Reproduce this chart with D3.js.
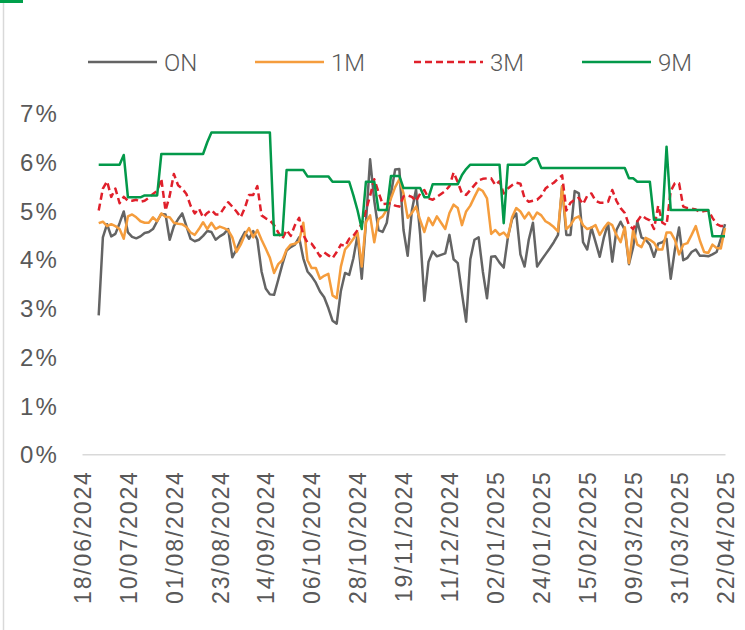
<!DOCTYPE html>
<html>
<head>
<meta charset="utf-8">
<script src="https://cdn.jsdelivr.net/npm/d3@7"></script>
<style>
  body { margin: 0; background: #fff; }
  svg { display: block; font-family: Roboto, "Noto Sans", sans-serif; }
</style>
</head>
<body>
<div id="chart"></div>
<script>
// series, one value every 2 days from 26/06/2024 to 22/04/2025 (in %)
const seriesNames = ["ON", "1M", "3M", "9M"];
const seriesColors = ["#646464", "#f59d3d", "#e0202b", "#03994a"];
const firstDate = "26/06/2024";
const stepDays = 2;

const tickLabels = ["18/06/2024", "10/07/2024", "01/08/2024", "23/08/2024", "14/09/2024",
    "06/10/2024", "28/10/2024", "19/11/2024", "11/12/2024", "02/01/2025",
    "24/01/2025", "15/02/2025", "09/03/2025", "31/03/2025", "22/04/2025"];
const yTicks = [0, 1, 2, 3, 4, 5, 6, 7];

const rateON = [
    2.85, 4.45, 4.72, 4.47, 4.52, 4.74, 4.98, 4.55, 4.46, 4.43,
    4.47, 4.54, 4.56, 4.62, 4.78, 4.93, 4.92, 4.40, 4.68, 4.82,
    4.94, 4.68, 4.42, 4.37, 4.40, 4.48, 4.58, 4.56, 4.40, 4.47,
    4.52, 4.62, 4.04, 4.20, 4.40, 4.56, 4.42, 4.58, 4.40, 3.75,
    3.40, 3.28, 3.27, 3.58, 3.90, 4.18, 4.25, 4.30, 4.45, 4.02,
    3.75, 3.65, 3.52, 3.34, 3.22, 3.00, 2.74, 2.68, 3.35, 3.72,
    3.68, 4.02, 4.50, 3.60, 4.75, 6.05, 5.20, 4.60, 4.56, 4.75,
    5.35, 5.84, 5.85, 4.60, 4.07, 5.00, 5.43, 4.50, 3.15, 3.95,
    4.16, 4.06, 4.09, 4.12, 4.50, 4.00, 3.92, 3.30, 2.72, 4.00,
    4.40, 4.45, 3.75, 3.20, 4.05, 4.06, 3.93, 3.83, 4.45, 4.82,
    4.94, 4.10, 3.85, 4.40, 4.75, 3.85, 3.98, 4.10, 4.22, 4.35,
    4.50, 5.50, 4.50, 4.50, 5.40, 5.35, 4.35, 4.20, 4.65, 4.35,
    4.05, 4.45, 4.74, 3.95, 4.60, 4.77, 4.60, 3.90, 4.25, 4.78,
    4.45, 4.40, 4.30, 4.05, 4.32, 4.35, 4.42, 3.60, 4.20, 4.65,
    3.98, 4.03, 4.15, 4.20, 4.07, 4.07, 4.06, 4.10, 4.15, 4.42,
    4.72
];

const rate1M = [
    4.74, 4.77, 4.68, 4.72, 4.68, 4.62, 4.42, 4.88, 4.92, 4.86,
    4.78, 4.75, 4.75, 4.86, 4.78, 4.94, 4.87, 4.86, 4.75, 4.73,
    4.72, 4.66, 4.55, 4.50, 4.62, 4.76, 4.62, 4.75, 4.62, 4.67,
    4.64, 4.60, 4.45, 4.15, 4.30, 4.50, 4.64, 4.45, 4.60, 4.40,
    4.22, 4.03, 3.72, 3.90, 3.98, 4.20, 4.30, 4.32, 4.37, 4.75,
    3.98, 3.82, 3.82, 3.60, 3.66, 3.70, 3.26, 3.20, 3.85, 4.20,
    4.30, 4.42, 4.55, 3.85, 4.76, 4.90, 4.35, 4.82, 4.88, 5.02,
    5.25, 5.48, 5.64, 5.35, 4.85, 4.95, 5.08, 4.80, 4.56, 4.85,
    4.70, 4.88, 4.75, 4.62, 4.95, 5.12, 5.05, 4.70, 4.98, 5.10,
    5.28, 5.45, 5.40, 5.25, 4.52, 4.60, 4.50, 4.55, 4.45, 4.86,
    5.05, 4.98, 4.84, 4.96, 4.82, 4.96, 4.90, 4.78, 4.73, 4.66,
    4.57, 5.50, 4.62, 4.70, 4.84, 4.88, 4.70, 4.62, 4.65, 4.70,
    4.50, 4.64, 4.75, 4.70, 4.50, 4.35, 4.66, 3.92, 4.60, 4.30,
    4.25, 4.44, 4.40, 4.34, 4.20, 4.20, 4.55, 4.55, 4.40, 4.10,
    4.30, 4.33, 4.50, 4.68, 4.38, 4.15, 4.13, 4.30, 4.23, 4.22,
    4.64
];

const rate3M = [
    5.00, 5.45, 5.60, 5.28, 5.45, 5.15, 5.28, 5.20, 5.20, 5.22,
    5.18, 5.20, 5.26, 5.34, 5.40, 5.65, 5.00, 5.30, 5.75, 5.52,
    5.45, 5.34, 5.10, 4.94, 5.04, 4.86, 4.95, 5.01, 4.92, 4.92,
    5.05, 5.17, 5.08, 4.98, 4.86, 5.05, 5.32, 5.32, 5.50, 4.90,
    4.84, 4.80, 4.70, 4.55, 4.42, 4.60, 4.48, 4.70, 4.85, 4.50,
    4.34, 4.32, 4.20, 4.06, 4.14, 4.08, 4.02, 4.15, 4.30, 4.27,
    4.42, 4.48, 4.60, 4.72, 5.00, 5.30, 5.64, 5.38, 5.13, 5.14,
    5.15, 5.10, 5.08, 5.29, 5.31, 5.28, 5.19, 5.35, 5.42, 5.25,
    5.22, 5.28, 5.34, 5.40, 5.50, 5.78, 5.58, 5.35, 5.32, 5.42,
    5.52, 5.62, 5.65, 5.66, 5.66, 5.52, 5.60, 5.35, 5.45, 5.52,
    5.57, 5.55, 5.25, 5.18, 5.20, 5.22, 5.30, 5.45, 5.52, 5.57,
    5.65, 5.72, 5.00, 5.16, 5.22, 5.26, 5.13, 5.30, 5.35, 5.20,
    5.16, 5.16, 5.18, 5.42, 5.20, 5.05, 4.95, 4.70, 4.62, 4.78,
    4.90, 4.84, 4.80, 4.62, 5.10, 4.75, 4.70, 5.40, 5.56, 5.56,
    5.08, 5.05, 5.04, 5.02, 4.97, 4.99, 5.00, 4.85, 4.72, 4.68,
    4.68
];

const rate9M = [
    5.94, 5.94, 5.94, 5.94, 5.94, 5.94, 6.14, 5.27, 5.27, 5.27,
    5.27, 5.31, 5.31, 5.31, 5.31, 6.16, 6.16, 6.16, 6.16, 6.16,
    6.16, 6.16, 6.16, 6.16, 6.16, 6.16, 6.40, 6.60, 6.60, 6.60,
    6.60, 6.60, 6.60, 6.60, 6.60, 6.60, 6.60, 6.60, 6.60, 6.60,
    6.60, 6.60, 4.50, 4.50, 4.50, 5.83, 5.83, 5.83, 5.83, 5.83,
    5.70, 5.70, 5.70, 5.70, 5.70, 5.70, 5.59, 5.59, 5.59, 5.59,
    5.59, 5.31, 5.00, 4.62, 5.59, 5.59, 5.59, 5.01, 5.01, 5.01,
    5.71, 5.71, 5.71, 5.46, 5.46, 5.46, 5.46, 5.46, 5.27, 5.27,
    5.54, 5.54, 5.54, 5.54, 5.54, 5.54, 5.54, 5.73, 5.85, 5.94,
    5.94, 5.94, 5.94, 5.94, 5.94, 5.94, 5.94, 4.74, 5.94, 5.94,
    5.94, 5.94, 5.94, 6.00, 6.07, 6.07, 5.87, 5.87, 5.87, 5.87,
    5.87, 5.87, 5.87, 5.87, 5.87, 5.87, 5.87, 5.87, 5.87, 5.87,
    5.87, 5.87, 5.87, 5.87, 5.87, 5.87, 5.87, 5.66, 5.66, 5.59,
    5.59, 5.59, 5.59, 4.81, 4.81, 4.81, 6.31, 5.01, 5.01, 5.01,
    5.01, 5.01, 5.01, 5.01, 5.01, 5.01, 5.01, 4.47, 4.47, 4.47,
    4.47
];

const parseDate = d3.timeParse("%d/%m/%Y");
const formatDate = d3.timeFormat("%d/%m/%Y");
const t0 = parseDate(firstDate);
const dates = rateON.map((_, i) => d3.timeDay.offset(t0, i * stepDays));

const series = [rateON, rate1M, rate3M, rate9M].map((values, i) => ({
    name: seriesNames[i],
    color: seriesColors[i],
    dash: seriesNames[i] === "3M" ? "7,4" : null,
    values: values
}));

const width = 745, height = 630;
const textColor = "#595959";

const svg = d3.select("#chart").append("svg")
    .attr("width", width)
    .attr("height", height);

svg.append("rect").attr("width", width).attr("height", height).attr("fill", "#fff");

// frame bits
svg.append("line")
    .attr("x1", 3.5).attr("x2", 3.5).attr("y1", 0).attr("y2", height)
    .attr("stroke", "#d9d9d9").attr("stroke-width", 1.5);
svg.append("rect")
    .attr("x", 0).attr("y", 0).attr("width", 23).attr("height", 3)
    .attr("fill", "#00a04b");

const x = d3.scaleTime()
    .domain([parseDate(tickLabels[0]), parseDate(tickLabels[tickLabels.length - 1])])
    .range([82, 725]);

const y = d3.scaleLinear()
    .domain([0, 7])
    .range([454.3, 113]);

// x axis
const xAxis = svg.append("g")
    .attr("transform", `translate(0,${y(0)})`)
    .call(d3.axisBottom(x)
        .tickValues(tickLabels.map(parseDate))
        .tickFormat(formatDate)
        .tickSize(0)
        .tickSizeOuter(0));

xAxis.select(".domain")
    .attr("stroke", "#d9d9d9")
    .attr("stroke-width", 1.5);

xAxis.selectAll("text")
    .attr("y", null)
    .attr("dy", "0.36em")
    .attr("transform", "translate(0,16) rotate(-90)")
    .attr("text-anchor", "end")
    .attr("fill", textColor)
    .style("font-size", "23px")
    .style("font-weight", 300)
    .style("letter-spacing", "1.85px");

// y axis
const yAxis = svg.append("g")
    .attr("transform", "translate(59,0)")
    .call(d3.axisLeft(y)
        .tickValues(yTicks)
        .tickFormat(d => d + "%")
        .tickSize(0)
        .tickPadding(0));

yAxis.select(".domain").remove();
yAxis.selectAll("text")
    .attr("dy", "0.36em")
    .attr("fill", textColor)
    .style("font-size", "24px")
    .style("font-weight", 300)
    .style("letter-spacing", "2.2px");

// lines
const line = d3.line()
    .x((d, i) => x(dates[i]))
    .y(d => y(d));

svg.append("g")
    .selectAll("path")
    .data(series)
    .enter().append("path")
    .attr("d", d => line(d.values))
    .attr("fill", "none")
    .attr("stroke", d => d.color)
    .attr("stroke-width", 2.5)
    .attr("stroke-linejoin", "round")
    .attr("stroke-dasharray", d => d.dash);

// legend
const legendX = [88, 255, 414, 582];
const legend = svg.append("g").attr("transform", "translate(0,62)");
series.forEach((s, i) => {
    const item = legend.append("g").attr("transform", `translate(${legendX[i]},0)`);
    item.append("line")
        .attr("x1", 0).attr("x2", 69)
        .attr("stroke", s.color)
        .attr("stroke-width", 2.5)
        .attr("stroke-dasharray", s.dash);
    item.append("text")
        .attr("x", 76)
        .attr("dy", "0.36em")
        .attr("fill", textColor)
        .style("font-size", "24px")
        .style("font-weight", 300)
        .text(s.name);
});
</script>
</body>
</html>
